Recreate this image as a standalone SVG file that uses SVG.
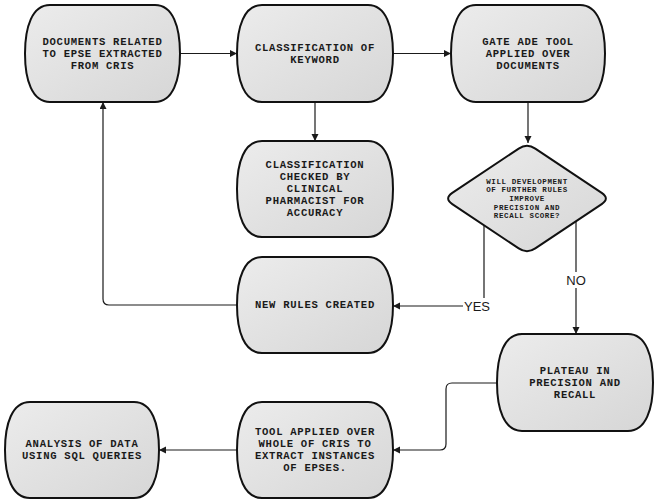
<svg xmlns="http://www.w3.org/2000/svg" width="657" height="503" viewBox="0 0 657 503">
<defs>
<linearGradient id="g" x1="0" y1="0" x2="1" y2="1">
<stop offset="0" stop-color="#ececec"/>
<stop offset="1" stop-color="#d6d6d6"/>
</linearGradient>
<marker id="ah" markerUnits="userSpaceOnUse" markerWidth="8" markerHeight="8" refX="7" refY="3.5" orient="auto">
<path d="M0,0 L7,3.5 L0,7 Z" fill="#1a1a1a"/>
</marker>
<style>
.n{fill:url(#g);stroke:#111;stroke-width:2}
.t{font-family:"Liberation Mono","DejaVu Sans Mono",monospace;font-weight:bold;font-size:10.6px;letter-spacing:0.7px;fill:#1a1a1a;text-anchor:middle;dominant-baseline:central}
.ts{font-size:7.5px;letter-spacing:0.6px}
.c{fill:none;stroke:#1a1a1a;stroke-width:1.2}
.l{font-family:"Liberation Sans",Arial,sans-serif;font-size:13px;fill:#1a1a1a;text-anchor:middle;dominant-baseline:central}
</style>
</defs>
<rect width="657" height="503" fill="#fff"/>
<g id="connectors">
<path class="c" d="M180,53.5 H237" marker-end="url(#ah)"/>
<path class="c" d="M393,53.5 H451" marker-end="url(#ah)"/>
<path class="c" d="M315,102 V141" marker-end="url(#ah)"/>
<path class="c" d="M528,102 V143" marker-end="url(#ah)"/>
<path class="c" d="M484,225 V306 H393" marker-end="url(#ah)"/>
<path class="c" d="M576,221 V334" marker-end="url(#ah)"/>
<path class="c" d="M237,305 H109 Q103,305 103,299 V102" marker-end="url(#ah)"/>
<path class="c" d="M497,383 H452 Q446,383 446,389 V444 Q446,450 440,450 H393" marker-end="url(#ah)"/>
<path class="c" d="M237,450 H159" marker-end="url(#ah)"/>
<rect x="463" y="298" width="29" height="16" fill="#fff"/>
<text class="l" x="477" y="306">YES</text>
<rect x="566" y="272" width="21" height="16" fill="#fff"/>
<text class="l" x="576" y="280">NO</text>
</g>
<g id="n1">
<path class="n" d="M50,5 H155 C173,5 180,27 180,53.5 C180,80 173,102 155,102 H50 C32,102 25,80 25,53.5 C25,27 32,5 50,5 Z"/>
<text class="t" x="102.5" y="41.5">DOCUMENTS RELATED</text>
<text class="t" x="102.5" y="53.5">TO EPSE EXTRACTED</text>
<text class="t" x="102.5" y="65.5">FROM CRIS</text>
</g>
<g id="n2">
<path class="n" d="M262,5 H368 C386,5 393,27 393,53.5 C393,80 386,102 368,102 H262 C244,102 237,80 237,53.5 C237,27 244,5 262,5 Z"/>
<text class="t" x="315" y="47.5">CLASSIFICATION OF</text>
<text class="t" x="315" y="59.5">KEYWORD</text>
</g>
<g id="n3">
<path class="n" d="M476,5 H580 C598,5 605,27 605,53.5 C605,80 598,102 580,102 H476 C458,102 451,80 451,53.5 C451,27 458,5 476,5 Z"/>
<text class="t" x="528" y="41.5">GATE ADE TOOL</text>
<text class="t" x="528" y="53.5">APPLIED OVER</text>
<text class="t" x="528" y="65.5">DOCUMENTS</text>
</g>
<g id="n4">
<path class="n" d="M262,141 H368 C386,141 393,163 393,189 C393,215 386,237 368,237 H262 C244,237 237,215 237,189 C237,163 244,141 262,141 Z"/>
<text class="t" x="315" y="165">CLASSIFICATION</text>
<text class="t" x="315" y="177">CHECKED BY</text>
<text class="t" x="315" y="189">CLINICAL</text>
<text class="t" x="315" y="201">PHARMACIST FOR</text>
<text class="t" x="315" y="213">ACCURACY</text>
</g>
<g id="decision">
<path class="n" d="M535.3,148.6 L601.7,192.9 Q610,198.5 601.7,204.1 L535.3,248.4 Q527,254 518.7,248.4 L452.3,204.1 Q444,198.5 452.3,192.9 L518.7,148.6 Q527,143 535.3,148.6 Z"/>
<text class="t ts" x="527" y="181.7">WILL DEVELOPMENT</text>
<text class="t ts" x="527" y="190.3">OF FURTHER RULES</text>
<text class="t ts" x="527" y="198.9">IMPROVE</text>
<text class="t ts" x="527" y="207.5">PRECISION AND</text>
<text class="t ts" x="527" y="216.1">RECALL SCORE?</text>
</g>
<g id="n5">
<path class="n" d="M262,257 H368 C386,257 393,279 393,305 C393,331 386,353 368,353 H262 C244,353 237,331 237,305 C237,279 244,257 262,257 Z"/>
<text class="t" x="315" y="305">NEW RULES CREATED</text>
</g>
<g id="n6">
<path class="n" d="M522,334 H628 C646,334 653,356 653,382.5 C653,409 646,431 628,431 H522 C504,431 497,409 497,382.5 C497,356 504,334 522,334 Z"/>
<text class="t" x="575" y="370.5">PLATEAU IN</text>
<text class="t" x="575" y="382.5">PRECISION AND</text>
<text class="t" x="575" y="394.5">RECALL</text>
</g>
<g id="n7">
<path class="n" d="M262,402 H368 C386,402 393,424 393,450 C393,476 386,498 368,498 H262 C244,498 237,476 237,450 C237,424 244,402 262,402 Z"/>
<text class="t" x="315" y="432">TOOL APPLIED OVER</text>
<text class="t" x="315" y="444">WHOLE OF CRIS TO</text>
<text class="t" x="315" y="456">EXTRACT INSTANCES</text>
<text class="t" x="315" y="468">OF EPSES.</text>
</g>
<g id="n8">
<path class="n" d="M30,402 H134 C152,402 159,424 159,450 C159,476 152,498 134,498 H30 C12,498 5,476 5,450 C5,424 12,402 30,402 Z"/>
<text class="t" x="82" y="444">ANALYSIS OF DATA</text>
<text class="t" x="82" y="456">USING SQL QUERIES</text>
</g>
</svg>
